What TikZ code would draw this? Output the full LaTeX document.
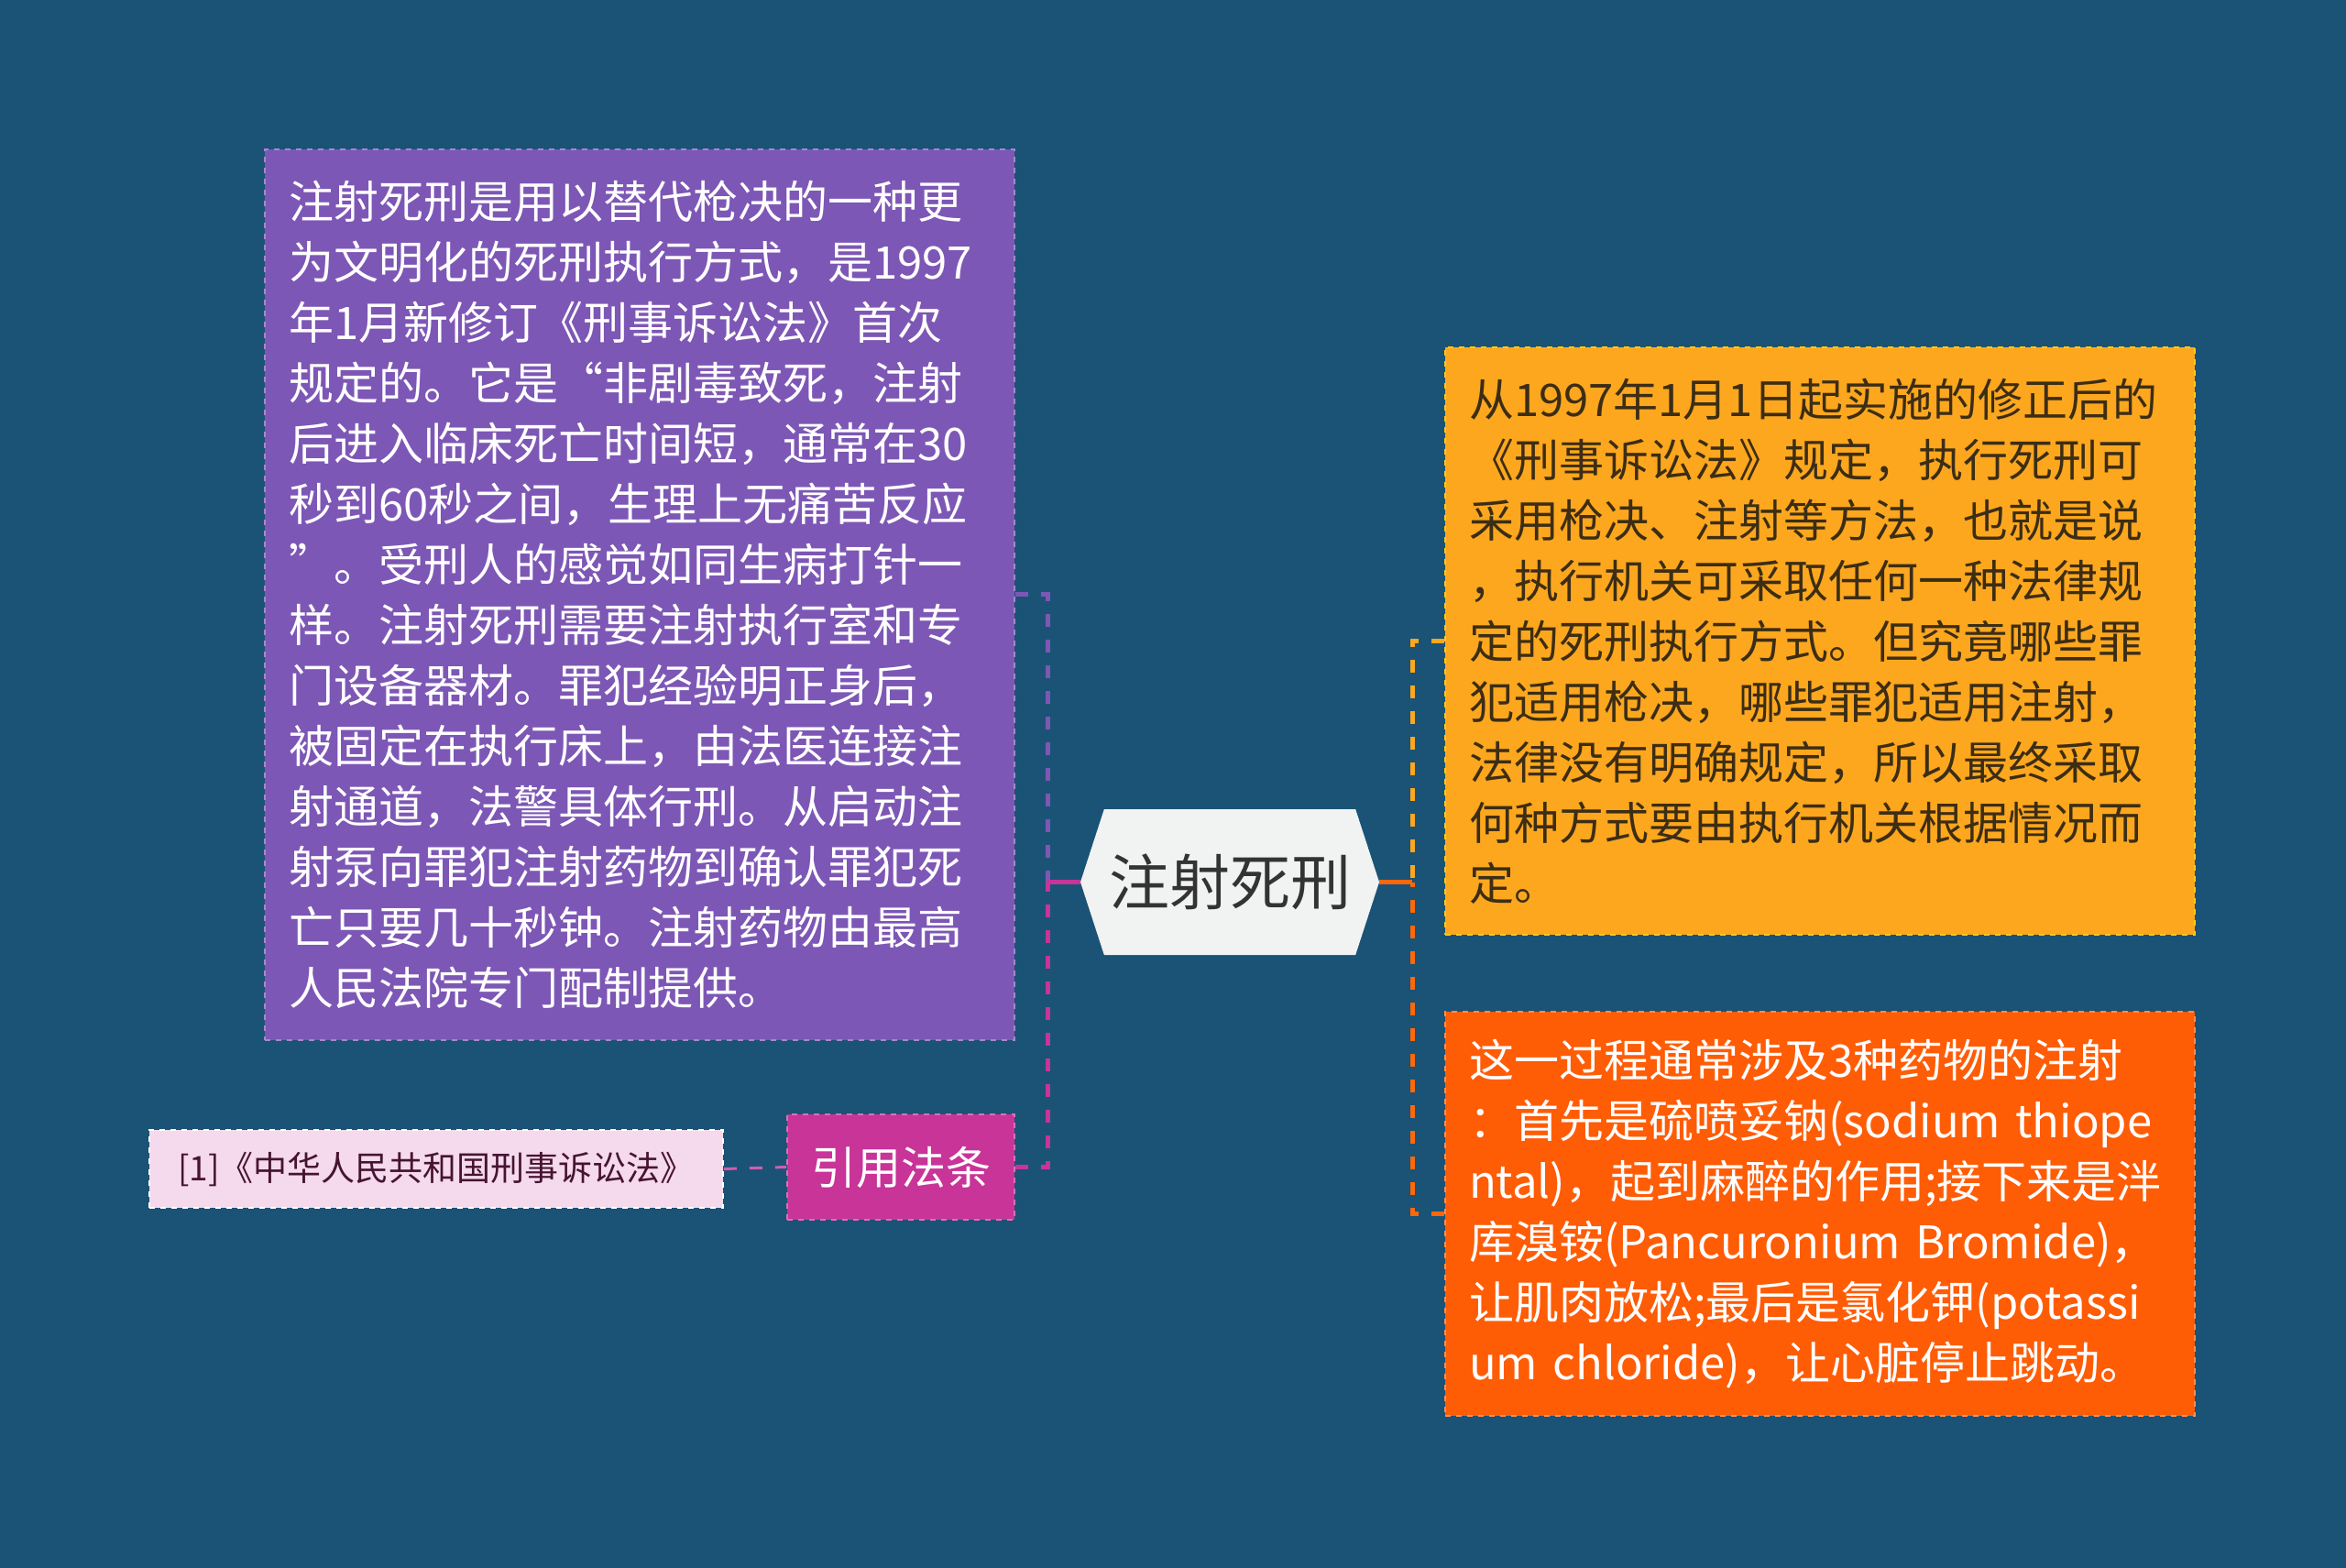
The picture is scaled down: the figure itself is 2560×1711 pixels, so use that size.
\documentclass[tikz,border=0pt]{standalone}
\usepackage{fontspec}
\setmainfont{Noto Sans CJK SC}
\usetikzlibrary{shapes.symbols}

\definecolor{bgC}{RGB}{26,83,117}
\definecolor{purpleC}{RGB}{125,87,181}
\definecolor{amberC}{RGB}{252,167,30}
\definecolor{redC}{RGB}{255,92,6}
\definecolor{magentaC}{RGB}{200,52,152}
\definecolor{pinkC}{RGB}{245,217,236}
\definecolor{hubC}{RGB}{241,242,242}
\definecolor{amberText}{RGB}{60,45,20}
\definecolor{pinkText}{RGB}{70,20,50}

\tikzset{basic/.style={dashed,line width=0.8pt,inner sep=0pt,
                       inner xsep=13pt,align=left}}
\tikzset{leaf/.style={basic,rectangle,text width=383pt,
                      font=\fontsize{24.5pt}{33pt}\selectfont}}
\tikzset{hub/.style={signal,signal to=west and east,signal pointer angle=144,
                     fill=hubC,text=black!80,minimum width=163pt,
                     minimum height=79.5pt,inner sep=0pt,
                     font=\fontsize{33pt}{40pt}\selectfont}}
\tikzset{link/.style={dashed,dash pattern=on 7pt off 7pt,line width=2.5pt}}
\tikzset{stub/.style={line width=2.5pt}}

\begin{document}
\begin{tikzpicture}[x=0.5pt,y=-0.5pt]
        \useasboundingbox[fill=bgC] (0,0) rectangle (2560,1711);
        \node[hub] (hub) at (1342,962.5) {注射死刑};
        \node[leaf,fill=purpleC,draw=purpleC!70!white,text=white,
              minimum height=486pt] (purple) at (698,649) {%
          注射死刑是用以替代枪决的一种更\\
          为文明化的死刑执行方式，是1997\\
          年1月新修订《刑事诉讼法》首次\\
          规定的。它是“非剧毒致死，注射\\
          后进入临床死亡时间短，通常在30\\
          秒到60秒之间，生理上无痛苦反应\\
          ”。受刑人的感觉如同生病打针一\\
          样。注射死刑需要注射执行室和专\\
          门设备器材。罪犯经验明正身后，\\
          被固定在执行床上，由法医连接注\\
          射通道，法警具体行刑。从启动注\\
          射泵向罪犯注射药物到确认罪犯死\\
          亡只要几十秒钟。注射药物由最高\\
          人民法院专门配制提供。};
        \node[leaf,fill=amberC,draw=amberC!60!yellow,text=amberText,
              minimum height=320.5pt] (amber) at (1986,699.5) {%
          从1997年1月1日起实施的修正后的\\
          《刑事诉讼法》规定，执行死刑可\\
          采用枪决、注射等方法，也就是说\\
          ，执行机关可采取任何一种法律规\\
          定的死刑执行方式。但究竟哪些罪\\
          犯适用枪决，哪些罪犯适用注射，\\
          法律没有明确规定，所以最终采取\\
          何种方式要由执行机关根据情况而\\
          定。};
        \node[leaf,fill=redC,draw=redC!70!white,text=white,
              minimum height=220.5pt] (red) at (1986,1324.5) {%
          这一过程通常涉及3种药物的注射\\
          ：首先是硫喷妥钠(sodium thiope\\
          ntal)，起到麻醉的作用;接下来是泮\\
          库溴铵(Pancuronium Bromide)，\\
          让肌肉放松;最后是氯化钾(potassi\\
          um chloride)，让心脏停止跳动。};
        \node[basic,fill=magentaC,draw=magentaC!70!white,text=white,
              minimum width=124pt,minimum height=57.5pt,align=center,
              font=\fontsize{24.5pt}{30pt}\selectfont] (cite) at (983,1273.5) {引用法条};
        \node[basic,fill=pinkC,draw=white,text=pinkText,
              minimum width=313pt,minimum height=42.5pt,align=center,
              font=\fontsize{18.5pt}{22pt}\selectfont] (ref) at (476,1275.5)
              {[1]《中华人民共和国刑事诉讼法》};
        % Trunks
        \coordinate (ltrunk) at (1143,962.5);
        \coordinate (rtrunk) at (1541,962.5);
        \draw[link,purpleC] (purple.east) -| (ltrunk);
        \draw[link,magentaC] (cite.east) -| (ltrunk);
        \draw[stub,magentaC] (ltrunk) -- (hub.west);
        \draw[link,amberC] (amber.west) -| (rtrunk);
        \draw[link,redC!85!amberC] (red.west) -| (rtrunk);
        \draw[stub,redC!85!amberC] (rtrunk) -- (hub.east);
        \draw[link,magentaC!80!white,line width=1.5pt] (ref.east) -- (cite.west);
    \end{tikzpicture}
\end{document}
